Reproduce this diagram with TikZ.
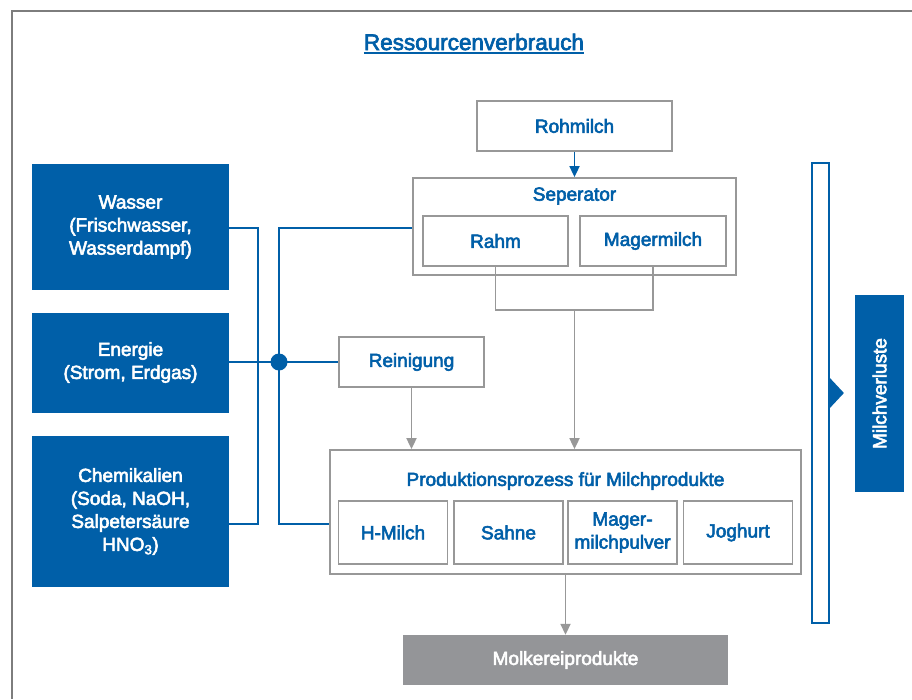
\documentclass[tikz,border=0pt]{standalone}
\usepackage{fontspec}
\setmainfont{Liberation Sans}
\newfontfamily\medfont{Liberation Sans}[FakeBold=3]
\usetikzlibrary{arrows.meta}
\definecolor{cblue}{RGB}{0,95,168}
\definecolor{cgray}{RGB}{152,152,152}
\definecolor{mgray}{RGB}{148,149,152}
\definecolor{fgray}{RGB}{125,125,125}
\tikzset{
  txt/.style={font=\medfont\fontsize{19}{23}\selectfont, align=center, inner sep=0pt},
  gbox/.style={txt, draw=cgray, line width=1.8pt, text=cblue},
  bbox/.style={txt, fill=cblue, text=white},
  bl/.style={draw=cblue, line width=1.8pt},
  gl/.style={draw=cgray, line width=1.8pt},
  garrow/.style={gl, -{Triangle[width=10pt,length=11pt]}},
  barrow/.style={bl, -{Triangle[width=10pt,length=11pt]}},
}
\begin{document}
\begin{tikzpicture}[x=1pt,y=-1pt]
\useasboundingbox (0,0) rectangle (912,699);
\fill[white] (0,0) rectangle (912,699);
% frame
\draw[fgray, line width=1.2pt] (912,11) -- (12,11) -- (12,699);
% title
\node[txt, text=cblue, font=\medfont\fontsize{22.5}{26}\selectfont] (title) at (474,42) {Ressourcenverbrauch};
\draw[cblue, line width=1.5pt] ([yshift=-3pt]title.base west) -- ([yshift=-3pt]title.base east);

% left resources
\node[bbox, minimum width=197, minimum height=126] (wasser) at (130.5,227) {Wasser\\(Frischwasser,\\Wasserdampf)};
\node[bbox, minimum width=197, minimum height=100] (energie) at (130.5,362.5) {Energie\\(Strom, Erdgas)};
\node[bbox, minimum width=197, minimum height=151] (chem) at (130.5,511.5) {Chemikalien\\(Soda, NaOH,\\Salpetersäure\\HNO\textsubscript{3})};

% top chain
\node[gbox, minimum width=195, minimum height=50] (roh) at (574.5,126) {Rohmilch};
\node[gbox, minimum width=323, minimum height=97] (sep) at (574.5,226.5) {};
\node[txt, text=cblue] (seplabel) at (574.5,196) {Seperator};
\node[gbox, minimum width=145, minimum height=50] (rahm) at (495.5,241) {Rahm};
\node[gbox, minimum width=146, minimum height=50] (mager) at (653,241) {Magermilch};
\node[gbox, minimum width=145, minimum height=50] (rein) at (411.5,362) {Reinigung};

% production
\node[gbox, minimum width=471, minimum height=124] (prod) at (565.5,512) {};
\node[txt, text=cblue] (prodlabel) at (565.5,481) {Produktionsprozess für Milchprodukte};
\node[gbox, minimum width=109, minimum height=63] (hmilch) at (393,532.5) {H-Milch};
\node[gbox, minimum width=109, minimum height=63] (sahne) at (508.5,532.5) {Sahne};
\node[gbox, minimum width=109, minimum height=63] (mmp) at (622.5,532.5) {Mager-\\milchpulver};
\node[gbox, minimum width=109, minimum height=63] (jog) at (738,532.5) {Joghurt};
\node[txt, fill=mgray, text=white, minimum width=325, minimum height=50] (molk) at (565.5,660) {Molkereiprodukte};

% right side
\node[draw=cblue, line width=1.8pt, minimum width=17, minimum height=460, inner sep=0pt] (bar) at (820.5,393) {};
\fill[cblue] ([yshift=15pt]bar.east) -- ++(14,15) -- ++(-14,15) -- cycle;
\node[bbox, minimum width=197, minimum height=49, rotate=90] (verl) at (879.5,393.5) {Milchverluste};

% blue connectors
\node[circle, fill=cblue, minimum size=17pt, inner sep=0pt] (dot) at (279,362) {};
\draw[bl] (wasser.east |- 0,228) -| ([xshift=29pt]chem.east |- 0,524) -- (chem.east |- 0,524);
\draw[bl] (energie.east |- rein.west) -- (rein.west);
\draw[bl] (sep.west |- 0,228) -| (dot.center) |- (prod.west |- 0,524);
\draw[barrow] (roh.south) -- (sep.north);

% gray connectors
\draw[gl] (rahm.south) -- ++(0,43) coordinate (j1) -| (mager.south);
\draw[garrow] (sep.south |- j1) -- (sep.south |- prod.north);
\draw[garrow] (rein.south) -- (rein.south |- prod.north);
\draw[garrow] (prod.south) -- (molk.north);
\end{tikzpicture}
\end{document}
